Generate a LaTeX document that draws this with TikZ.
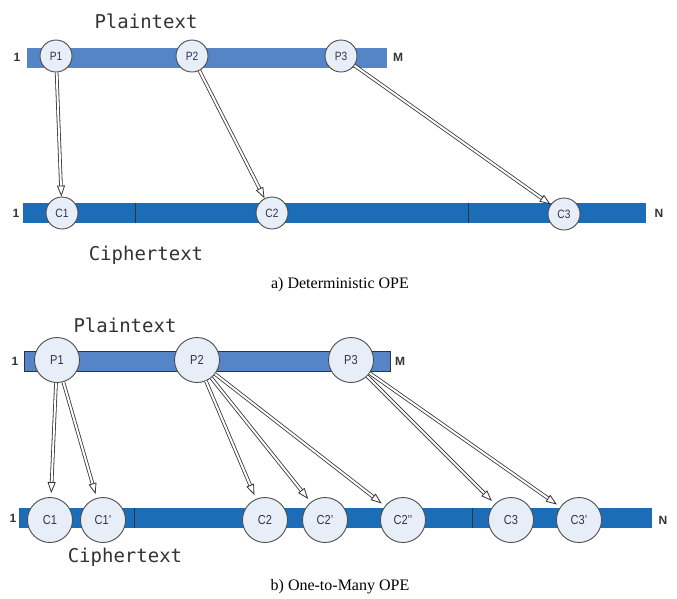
\documentclass[tikz,border=0pt]{standalone}
\usepackage{fontspec}
\setmainfont{Liberation Serif}
\setsansfont{Liberation Sans}
\setmonofont{DejaVu Sans Mono}
\usetikzlibrary{arrows.meta}
\definecolor{plainbar}{HTML}{5585C6}
\definecolor{cipherbar}{HTML}{1B6DB8}
\definecolor{ballfill}{HTML}{E7EEF7}
\definecolor{ink}{HTML}{2F344A}
\newcommand\balltext[1]{\scalebox{0.85}[1]{#1}}
\begin{document}
\begin{tikzpicture}[x=1pt,y=-1pt,
    ball/.style={circle,draw=black!70,fill=ballfill,line width=0.9pt,inner sep=0pt,text=ink},
    small/.style={ball,minimum size=32pt,font=\sffamily\fontsize{12}{12}\selectfont},
    big/.style={ball,minimum size=45pt,font=\sffamily\fontsize{13}{13}\selectfont},
    word/.style={font=\ttfamily\fontsize{19}{19}\selectfont,text=black!80},
    endlabel/.style={font=\sffamily\bfseries\fontsize{12}{12}\selectfont,text=black!80},
    caption/.style={font=\fontsize{16}{16}\selectfont},
    divider/.style={black!80,line width=1pt},
    map/.style={draw=black!80,line width=0.8pt,double=white,double distance=2pt,
      -{Triangle[open,length=11pt,width=8pt]}}]
  \useasboundingbox (0,0) rectangle (677,598);
  % a) deterministic
  \fill[plainbar] (27,48) rectangle (387,68);
  \fill[cipherbar] (23,203) rectangle (646,223);
  \draw[divider] (135,203) -- (135,223) (468,203) -- (468,223);
  \draw
    (56,56) node[small] (pa1){\balltext{P1}}
    (192,56) node[small] (pa2){\balltext{P2}}
    (341,56) node[small] (pa3){\balltext{P3}}
    (62,213) node[small] (ca1){\balltext{C1}}
    (272,213) node[small] (ca2){\balltext{C2}}
    (564,214) node[small] (ca3){\balltext{C3}};
  \draw
    (17,57) node[endlabel] (la1){1}
    (398,57) node[endlabel] (lam){M}
    (16,213) node[endlabel] (lc1){1}
    (659,213) node[endlabel] (lcn){N}
    (146,21) node[word] (wpa){Plaintext}
    (146,255) node[word] (wca){Ciphertext}
    (340,285) node[caption] (capa){a) Deterministic OPE};
  \draw[map] (pa1) to (ca1);
  \draw[map] (pa2) to (ca2);
  \draw[map] (pa3) to (ca3);
  % b) one-to-many
  \filldraw[fill=plainbar,draw=black!80,line width=0.9pt] (24,351) rectangle (390,371);
  \fill[cipherbar] (19,508) rectangle (652,528);
  \draw[divider] (134,508) -- (134,528) (472,508) -- (472,528);
  \draw
    (57,360) node[big] (pb1){\balltext{P1}}
    (197,360) node[big] (pb2){\balltext{P2}}
    (351,360) node[big] (pb3){\balltext{P3}}
    (50,520) node[big] (cb1){\balltext{C1}}
    (103,520) node[big] (cb1x){\balltext{C1'}}
    (265,520) node[big] (cb2){\balltext{C2}}
    (325,520) node[big] (cb2x){\balltext{C2'}}
    (403,520) node[big] (cb2xx){\balltext{C2'{}'}}
    (511,520) node[big] (cb3){\balltext{C3}}
    (579,520) node[big] (cb3x){\balltext{C3'}};
  \draw
    (15,361) node[endlabel] (lb1){1}
    (400,361) node[endlabel] (lbm){M}
    (13,518) node[endlabel] (ld1){1}
    (663,520) node[endlabel] (ldn){N}
    (125,325) node[word] (wpb){Plaintext}
    (125,557) node[word] (wcb){Ciphertext}
    (340,587) node[caption] (capb){b) One-to-Many OPE};
  \draw[map,shorten >=4pt] (pb1) to (cb1);
  \draw[map,shorten >=4pt] (pb1) to (cb1x);
  \draw[map,shorten >=4pt] (pb2) to (cb2);
  \draw[map,shorten >=4pt] (pb2) to (cb2x);
  \draw[map,shorten >=4pt] (pb2) to (cb2xx);
  \draw[map,shorten >=4pt] (pb3) to (cb3);
  \draw[map,shorten >=4pt] (pb3) to (cb3x);
\end{tikzpicture}
\end{document}
